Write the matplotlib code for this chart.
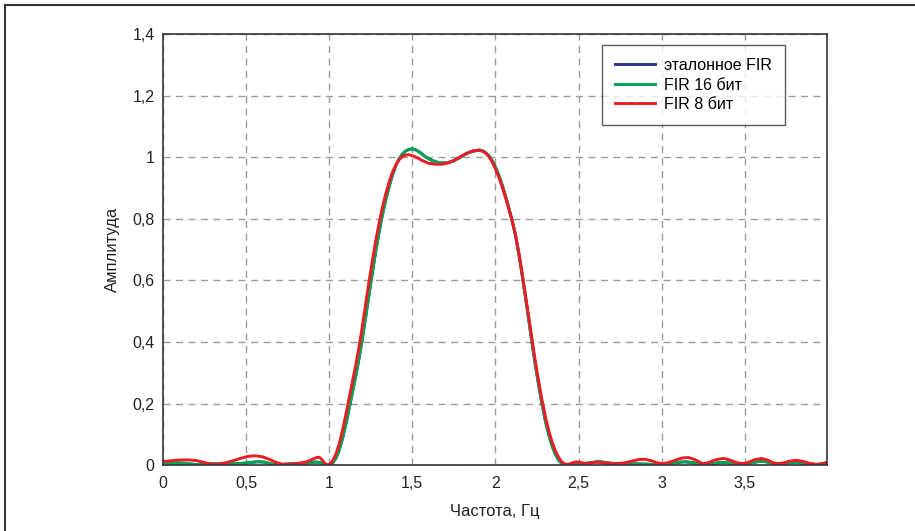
import numpy as np
import matplotlib.pyplot as plt
from matplotlib.lines import Line2D

plt.rcParams["font.family"] = ["Liberation Sans", "DejaVu Sans"]

# ======================================
# данные
# ======================================

freq_16 = [
    0.00, 0.04, 0.09, 0.13, 0.16, 0.20, 0.24, 0.27, 0.31, 0.36,
    0.42, 0.48, 0.53, 0.57, 0.61, 0.65, 0.68, 0.72, 0.76, 0.80,
    0.84, 0.88, 0.92, 0.95, 0.97, 0.99,
    1.00, 1.02, 1.04, 1.06, 1.08, 1.10, 1.12, 1.14, 1.16, 1.18,
    1.20, 1.22, 1.24, 1.26, 1.28, 1.30, 1.32, 1.34, 1.36, 1.38,
    1.40, 1.42, 1.44, 1.46, 1.48, 1.50, 1.52, 1.55, 1.58, 1.62,
    1.66, 1.70, 1.74, 1.78, 1.82, 1.86, 1.90, 1.93, 1.96, 1.98,
    2.00, 2.02, 2.04, 2.06, 2.08, 2.10, 2.12, 2.14, 2.16, 2.18,
    2.20, 2.22, 2.24, 2.26, 2.28, 2.30, 2.32, 2.34, 2.36, 2.38,
    2.40, 2.42,
    2.45, 2.50, 2.55, 2.60, 2.63, 2.68, 2.74, 2.80, 2.86, 2.92,
    2.97, 3.02, 3.08, 3.14, 3.19, 3.24, 3.30, 3.36, 3.42, 3.48,
    3.54, 3.60, 3.65, 3.70, 3.75, 3.80, 3.86, 3.92, 3.96, 4.00,
]
amp_16 = [
    0.003, 0.005, 0.007, 0.006, 0.004, 0.002, 0.003, 0.005, 0.004, 0.003,
    0.004, 0.006, 0.009, 0.011, 0.010, 0.004, 0.001, 0.002, 0.004, 0.005,
    0.006, 0.008, 0.010, 0.008, 0.004, 0.000,
    0.000, 0.006, 0.022, 0.048, 0.086, 0.132, 0.184, 0.236, 0.290, 0.348,
    0.412, 0.482, 0.555, 0.626, 0.694, 0.756, 0.812, 0.861, 0.904, 0.941,
    0.971, 0.994, 1.010, 1.020, 1.025, 1.027, 1.024, 1.014, 1.001, 0.989,
    0.982, 0.981, 0.986, 0.997, 1.010, 1.019, 1.023, 1.019, 1.005, 0.989,
    0.967, 0.941, 0.910, 0.875, 0.836, 0.795, 0.748, 0.688, 0.620, 0.548,
    0.473, 0.398, 0.326, 0.260, 0.199, 0.145, 0.100, 0.064, 0.036, 0.016,
    0.005, 0.001,
    0.003, 0.005, 0.006, 0.010, 0.011, 0.007, 0.004, 0.004, 0.004, 0.003,
    0.002, 0.004, 0.008, 0.011, 0.008, 0.003, 0.005, 0.009, 0.007, 0.002,
    0.008, 0.013, 0.009, 0.004, 0.007, 0.010, 0.006, 0.002, 0.004, 0.006,
]

freq_8 = [
    0.00, 0.04, 0.08, 0.12, 0.16, 0.20, 0.24, 0.27, 0.30, 0.34,
    0.38, 0.42, 0.46, 0.50, 0.535, 0.565, 0.60, 0.64, 0.68, 0.72,
    0.76, 0.80, 0.84, 0.87, 0.90, 0.92, 0.936, 0.95, 0.965, 0.98,
    0.99,
    1.00, 1.02, 1.04, 1.06, 1.08, 1.10, 1.12, 1.14, 1.16, 1.18,
    1.20, 1.22, 1.24, 1.26, 1.28, 1.30, 1.32, 1.34, 1.36, 1.38,
    1.40, 1.42, 1.44, 1.46, 1.48, 1.50, 1.53, 1.56, 1.60, 1.64,
    1.68, 1.72, 1.76, 1.80, 1.84, 1.88, 1.91, 1.94, 1.96, 1.98,
    2.00, 2.02, 2.04, 2.06, 2.08, 2.10, 2.12, 2.14, 2.16, 2.18,
    2.20, 2.22, 2.24, 2.26, 2.28, 2.30, 2.32, 2.34, 2.36, 2.38,
    2.40, 2.42,
    2.44, 2.465, 2.49, 2.52, 2.55, 2.58, 2.61, 2.645, 2.68, 2.71,
    2.74, 2.78, 2.82, 2.86, 2.90, 2.94, 2.97, 3.00, 3.04, 3.08,
    3.12, 3.16, 3.20, 3.23, 3.25, 3.28, 3.32, 3.37, 3.41, 3.45,
    3.49, 3.52, 3.56, 3.60, 3.64, 3.67, 3.70, 3.73, 3.77, 3.81,
    3.85, 3.89, 3.94, 3.97, 4.00,
]
amp_8 = [
    0.011, 0.014, 0.016, 0.017, 0.017, 0.015, 0.010, 0.006, 0.003, 0.004,
    0.008, 0.014, 0.021, 0.027, 0.030, 0.030, 0.027, 0.019, 0.009, 0.003,
    0.003, 0.005, 0.008, 0.012, 0.019, 0.024, 0.026, 0.022, 0.012, 0.003,
    0.001,
    0.002, 0.013, 0.035, 0.068, 0.112, 0.163, 0.217, 0.270, 0.325, 0.385,
    0.452, 0.525, 0.597, 0.665, 0.728, 0.785, 0.836, 0.880, 0.918, 0.950,
    0.974, 0.991, 1.002, 1.007, 1.008, 1.005, 0.998, 0.989, 0.980, 0.977,
    0.977, 0.982, 0.992, 1.005, 1.016, 1.022, 1.023, 1.014, 1.002, 0.985,
    0.962, 0.936, 0.905, 0.870, 0.833, 0.795, 0.750, 0.692, 0.625, 0.555,
    0.482, 0.408, 0.337, 0.272, 0.212, 0.158, 0.113, 0.076, 0.047, 0.025,
    0.010, 0.003,
    0.003, 0.008, 0.011, 0.008, 0.005, 0.008, 0.010, 0.008, 0.006, 0.005,
    0.005, 0.008, 0.013, 0.018, 0.019, 0.014, 0.008, 0.005, 0.008, 0.016,
    0.023, 0.025, 0.018, 0.009, 0.005, 0.008, 0.017, 0.022, 0.017, 0.008,
    0.005, 0.009, 0.018, 0.022, 0.016, 0.007, 0.005, 0.007, 0.013, 0.016,
    0.012, 0.006, 0.002, 0.005, 0.011,
]

# эталонный фильтр совпадает с 16-битным и скрыт под ним
freq_ref = freq_16
amp_ref = amp_16

labels = ["эталонное FIR", "FIR 16 бит", "FIR 8 бит"]
colors = ["#2e3192", "#00a651", "#ed1c24"]

x_ticks = [0, 0.5, 1, 1.5, 2, 2.5, 3, 3.5]
y_ticks = [0, 0.2, 0.4, 0.6, 0.8, 1.0, 1.2, 1.4]

# ======================================
# график
# ======================================

fig = plt.figure(figsize=(9.15, 5.31), dpi=100)
ax = fig.add_axes([0.178, 0.124, 0.726, 0.812])

ax.plot(freq_ref, amp_ref, color=colors[0], lw=2.1, label=labels[0],
        solid_joinstyle="round")
ax.plot(freq_16, amp_16, color=colors[1], lw=2.1, label=labels[1],
        solid_joinstyle="round")
ax.plot(freq_8, amp_8, color=colors[2], lw=2.1, label=labels[2],
        solid_joinstyle="round")

ax.set_xlim(0, 3.995)
ax.set_ylim(0, 1.4)

ax.set_xticks(x_ticks)
ax.set_yticks(y_ticks)
ax.set_xticklabels([f"{t:g}".replace(".", ",") for t in x_ticks])
ax.set_yticklabels([f"{t:g}".replace(".", ",") for t in y_ticks])
ax.tick_params(axis="x", length=0, labelsize=11.5, colors="#222222", pad=8)
ax.tick_params(axis="y", length=0, labelsize=11.5, colors="#222222", pad=6)

ax.grid(True, color="#9a9a9a", linestyle=(0, (5, 4)), lw=1.0)
ax.set_axisbelow(True)

for s in ax.spines.values():
    s.set_color("#333333")
    s.set_linewidth(1.2)

ax.set_xlabel("Частота, Гц", fontsize=12, color="#222222", labelpad=9)
ax.set_ylabel("Амплитуда", fontsize=12, color="#222222", labelpad=9)

leg = ax.legend(
    loc="upper right",
    bbox_to_anchor=(0.9367, 0.9745),
    fontsize=11.5,
    frameon=True,
    fancybox=False,
    handlelength=2.5,
    handletextpad=0.6,
    borderpad=0.82,
    labelspacing=0.28,
    borderaxespad=0,
)
leg.get_frame().set_edgecolor("#333333")
leg.get_frame().set_linewidth(1.0)

# рамка вокруг рисунка (только сверху и слева)
fig.add_artist(Line2D([0.0055, 1.0], [0.990, 0.990], color="#333333",
                      lw=1.5, transform=fig.transFigure))
fig.add_artist(Line2D([0.0055, 0.0055], [0.0, 0.990], color="#333333",
                      lw=1.5, transform=fig.transFigure))

plt.savefig("out.png", dpi=100)
plt.close()
